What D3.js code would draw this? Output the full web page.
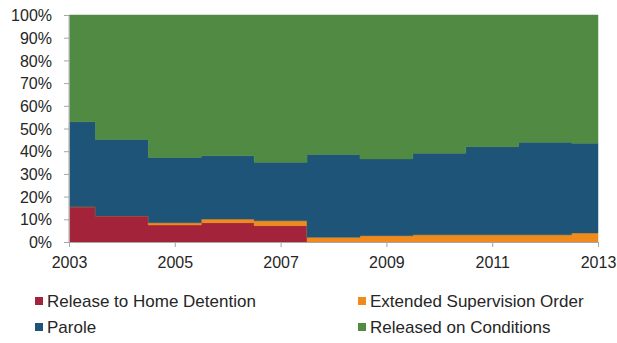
<!DOCTYPE html>
<html><head><meta charset="utf-8">
<script src="https://cdn.jsdelivr.net/npm/d3@7"></script>
<style>body{margin:0;background:#fff;} text{font-family:"Liberation Sans",Arial,sans-serif;fill:#262626;}</style>
</head><body><svg id="c" width="617" height="343"></svg>
<script>
const years = [2003,2004,2005,2006,2007,2008,2009,2010,2011,2012,2013];
const homeDetention = [15.5,11.5,7.5,8.5,7.2,0,0,0,0,0,0];
const extendedSupervision = [0,0,1.0,1.6,2.2,2.1,2.8,3.2,3.2,3.2,4.0];
const parole = [37.5,33.6,28.7,27.9,25.7,36.5,33.8,35.9,38.8,40.7,39.5];
const releasedOnConditions = [47.0,54.9,62.8,62.0,64.9,61.4,63.4,60.9,58.0,56.1,56.5];
const seriesNames = ["Release to Home Detention","Extended Supervision Order","Parole","Released on Conditions"];
const colors = ["#A3243A","#EF8A1C","#1D5478","#508A43"];
const yTicks = [0,10,20,30,40,50,60,70,80,90,100];
const xTicks = [2003,2005,2007,2009,2011,2013];

const svg = d3.select("#c");
const m = {l:69, r:598, t:15, b:242};
const x = d3.scaleLinear().domain([2003,2013]).range([m.l,m.r]);
const y = d3.scaleLinear().domain([0,100]).range([m.b,m.t]);

const rows = years.map((yr,i)=>({year:yr, s0:homeDetention[i], s1:extendedSupervision[i], s2:parole[i], s3:releasedOnConditions[i]}));
const keys = ["s0","s1","s2","s3"];
const stack = d3.stack().keys(keys)(rows);
const area = d3.area().curve(d3.curveStep).x(d=>x(d.data.year)).y0(d=>y(d[0])).y1(d=>y(d[1]));
svg.append("g").selectAll("path").data(stack).join("path")
  .attr("d",area).attr("fill",(d,i)=>colors[i]).attr("stroke",(d,i)=>colors[i]).attr("stroke-width",0.5);

// axes
const ya = svg.append("g").attr("transform",`translate(${m.l},0)`)
  .call(d3.axisLeft(y).tickValues(yTicks).tickFormat(d=>d+"%").tickSize(5).tickPadding(12));
const xa = svg.append("g").attr("transform",`translate(0,${m.b})`)
  .call(d3.axisBottom(x).tickValues(xTicks).tickFormat(d3.format("d")).tickSize(5).tickPadding(10));
[ya,xa].forEach(a=>{
  a.selectAll(".domain").attr("stroke","#a6a6a6");
  a.selectAll(".tick line").attr("stroke","#a6a6a6");
  a.selectAll("text").style("font-size","16px").attr("fill","#262626");
});
ya.selectAll("text").attr("dy","0.35em");

// legend
const leg = [{i:0,x:35,y:301},{i:1,x:358,y:301},{i:2,x:35,y:327},{i:3,x:358,y:327}];
const lg = svg.append("g").selectAll("g").data(leg).join("g").attr("transform",d=>`translate(${d.x},${d.y})`);
lg.append("rect").attr("x",0).attr("y",-4).attr("width",8).attr("height",8).attr("fill",d=>colors[d.i]);
lg.append("text").attr("x",12).attr("y",0).attr("dy","0.35em").style("font-size","17px").text(d=>seriesNames[d.i]);
</script></body></html>
